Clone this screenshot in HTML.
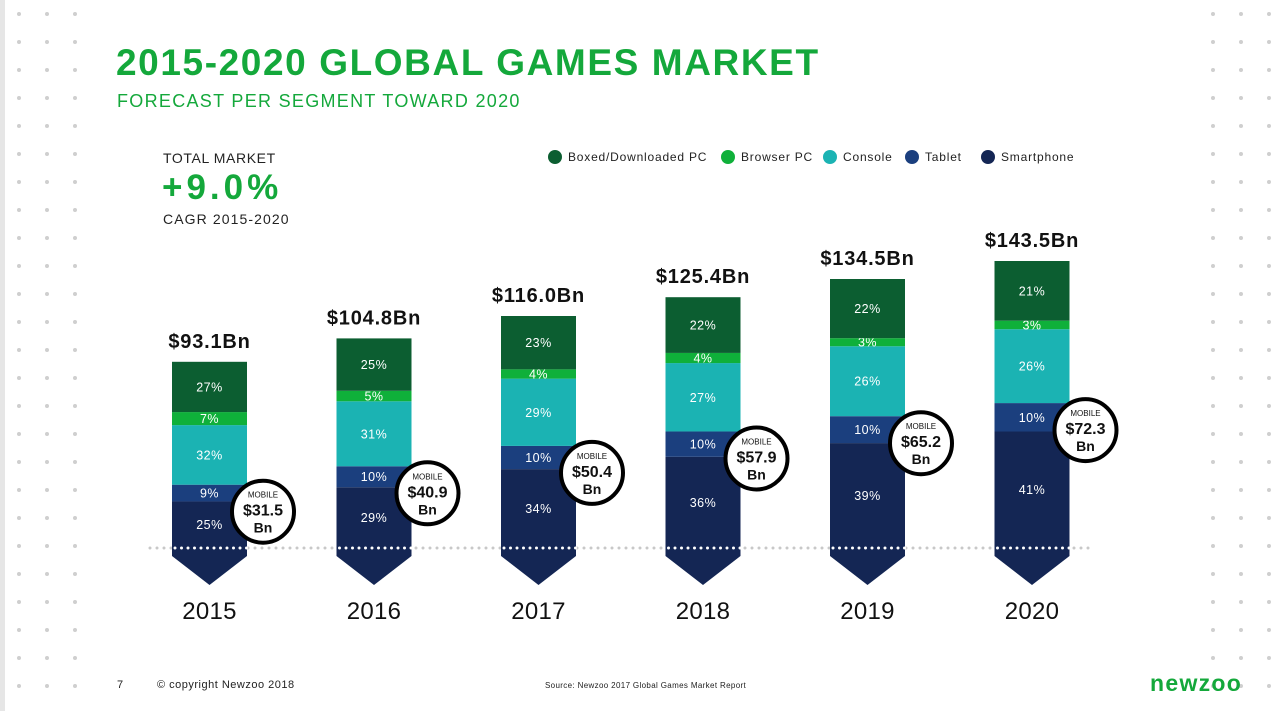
<!DOCTYPE html>
<html><head><meta charset="utf-8"><style>
body{margin:0;width:1277px;height:711px;overflow:hidden;background:#fff;font-family:"Liberation Sans",sans-serif;position:relative}
.t{position:absolute;white-space:nowrap}
</style></head><body>
<div style="position:absolute;left:0;top:0;width:5px;height:711px;background:#e6e6e6"></div>
<svg id="dots" width="1277" height="711" style="position:absolute;left:0;top:0"></svg>
<div class="t" style="left:116px;top:42px;font-size:37px;font-weight:bold;color:#14a83b;letter-spacing:1.6px">2015-2020 GLOBAL GAMES MARKET</div>
<div class="t" style="left:117px;top:91px;font-size:18px;color:#14a83b;letter-spacing:1.3px">FORECAST PER SEGMENT TOWARD 2020</div>
<div class="t" style="left:163px;top:150px;font-size:14px;color:#222;letter-spacing:0.6px">TOTAL MARKET</div>
<div class="t" style="left:162px;top:168px;font-size:35px;font-weight:bold;color:#14a83b;letter-spacing:4px">+9.0%</div>
<div class="t" style="left:163px;top:211px;font-size:14px;color:#222;letter-spacing:1.1px">CAGR 2015-2020</div>
<svg id="chart" width="1277" height="711" style="position:absolute;left:0;top:0;font-family:'Liberation Sans',sans-serif"></svg>
<div class="t" style="left:117px;top:679px;font-size:11px;color:#222">7</div>
<div class="t" style="left:157px;top:679px;font-size:11px;color:#222;letter-spacing:0.5px">© copyright Newzoo 2018</div>
<div class="t" style="left:545px;top:681px;font-size:8px;color:#222;letter-spacing:0.35px">Source: Newzoo 2017 Global Games Market Report</div>
<div class="t" style="left:1150px;top:670px;font-size:23px;font-weight:bold;color:#14a83b;letter-spacing:1.3px">newzoo</div>
<script>
const years=["2015","2016","2017","2018","2019","2020"];
const totals=[93.1,104.8,116.0,125.4,134.5,143.5];
const smartphone=[25,29,34,36,39,41];
const tablet=[9,10,10,10,10,10];
const consoleS=[32,31,29,27,26,26];
const browser=[7,5,4,4,3,3];
const boxed=[27,25,23,22,22,21];
const mobile=["31.5","40.9","50.4","57.9","65.2","72.3"];
const segNames=["Smartphone","Tablet","Console","Browser PC","Boxed/Downloaded PC"];
const segColors=["#142654","#1b3f7e","#1bb3b3","#0fb03a","#0c5e31"];
const NS="http://www.w3.org/2000/svg";
function mk(p,tag,a){const e=document.createElementNS(NS,tag);for(const k in a)e.setAttribute(k,a[k]);p.appendChild(e);return e;}
const d=document.getElementById('dots');
for(let y=14;y<711;y+=28){for(const x of [19,47,75,1213,1241,1269]){const c=mk(d,'circle',{cx:x,cy:y,r:2,fill:'#cfcfcf'});}}
const svg=document.getElementById('chart');
const base=548,scale=2.0,x0=172,step=164.5,bw=75;
const xOf=i=>x0+i*step, yOf=v=>base-v*scale;
const bl=mk(svg,'line',{x1:150,x2:1090,y1:base,y2:base,stroke:'#c8c8c8','stroke-width':3,'stroke-dasharray':'0 7','stroke-linecap':'round'});

const series=[smartphone,tablet,consoleS,browser,boxed];
years.forEach((yr,i)=>{
  const x=xOf(i);const sum=series.reduce((s,a)=>s+a[i],0);
  const ar=mk(svg,'polygon',{points:`${x},${base-1} ${x},${base+8} ${x+bw/2},${base+37} ${x+bw},${base+8} ${x+bw},${base-1}`,fill:segColors[0]});
  
  let cum=0;let tabletTop=0;
  series.forEach((s,k)=>{
    const v0=totals[i]*cum/sum, v1=totals[i]*(cum+s[i])/sum;
    const y1=yOf(v1),y0=yOf(v0);
    const r=mk(svg,'rect',{x:x,y:y1,width:bw,height:y0-y1,fill:segColors[k]});
    
    
    if(k==1)tabletTop=y1;
    const t=mk(svg,'text',{x:x+bw/2,y:(y0+y1)/2+4.5,'text-anchor':'middle','font-size':12.5,fill:'#fff','letter-spacing':'0.5'});
    t.textContent=s[i]+'%';
    
    cum+=s[i];
  });
  const ov=mk(svg,'line',{x1:x+3,x2:x+bw,y1:base,y2:base,stroke:'#fff','stroke-width':3,'stroke-dasharray':'0 6.5','stroke-linecap':'round'});
  
  const tt=mk(svg,'text',{x:x+bw/2,y:yOf(totals[i])-14,'text-anchor':'middle','font-size':20,'font-weight':'bold',fill:'#111','letter-spacing':'0.8'});
  tt.textContent='$'+totals[i].toFixed(1)+'Bn';
  
  const yl=mk(svg,'text',{x:x+bw/2,y:619,'text-anchor':'middle','font-size':24,fill:'#111','letter-spacing':'0.3'});
  yl.textContent=yr;
  
  const cx=x+bw+16,cy=tabletTop+27;
  const c=mk(svg,'circle',{cx:cx,cy:cy,r:31,fill:'#fff',stroke:'#000','stroke-width':4});
  
  const m1=mk(svg,'text',{x:cx,y:cy-14,'text-anchor':'middle','font-size':8,fill:'#111'});m1.textContent='MOBILE';
  
  const m2=mk(svg,'text',{x:cx,y:cy+4,'text-anchor':'middle','font-size':16,'font-weight':'bold',fill:'#111'});m2.textContent='$'+mobile[i];
  
  const m3=mk(svg,'text',{x:cx,y:cy+21,'text-anchor':'middle','font-size':14,'font-weight':'bold',fill:'#111'});m3.textContent='Bn';
  
});
const legX=[555,728,830,912,988];
const legOrder=[4,3,2,1,0];
legOrder.forEach((k,j)=>{
  const c=mk(svg,'circle',{cx:legX[j],cy:157,r:7,fill:segColors[k]});
  
  const t=mk(svg,'text',{x:legX[j]+13,y:161,'font-size':12,fill:'#222','letter-spacing':'0.8'});t.textContent=segNames[k];
  
});
</script>
</body></html>
